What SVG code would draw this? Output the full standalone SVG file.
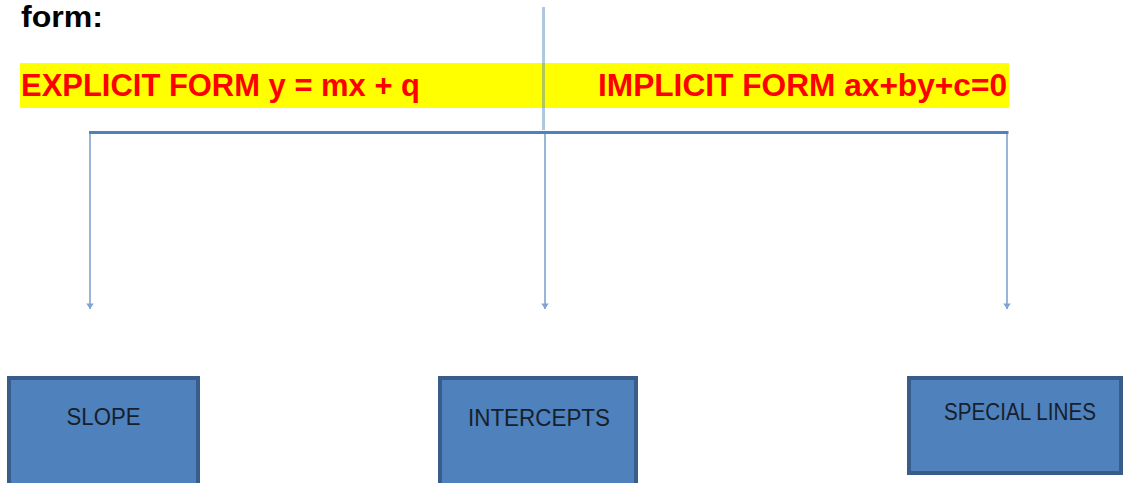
<svg xmlns="http://www.w3.org/2000/svg" width="1125" height="483" viewBox="0 0 1125 483">
  <style>
    .title { font-family: "Liberation Sans", Arial, sans-serif; font-weight: bold; fill: #000000; }
    .form { font-family: "Liberation Sans", Arial, sans-serif; font-weight: bold; font-size: 31px; fill: #ff0000; }
    .band { fill: #ffff00; }
    .box { fill: #4f81bd; stroke: #385d8a; stroke-width: 4; }
    .label { font-family: "Liberation Sans", Arial, sans-serif; font-size: 23px; fill: #16202c; text-anchor: middle; }
    .trunk { stroke: #4f81bd; stroke-width: 3; stroke-opacity: 0.45; fill: none; }
    .bar { stroke: #4f81bd; stroke-width: 3; fill: none; }
    .drop { stroke: #7fa3d2; stroke-width: 1.6; fill: none; marker-end: url(#tip); }
  </style>
  <defs>
    <marker id="tip" viewBox="0 0 6 10" refX="6" refY="5" markerWidth="3.5" markerHeight="6" markerUnits="strokeWidth" orient="auto">
      <path d="M0,1 L6,5 L0,9 Z" fill="#7fa3d2"/>
    </marker>
  </defs>

  <rect width="1125" height="483" fill="#ffffff"/>

  <!-- heading fragment -->
  <text class="title" x="21" y="27" font-size="29" textLength="82" lengthAdjust="spacingAndGlyphs">form:</text>

  <!-- highlighted equation band -->
  <rect class="band" x="20" y="63" width="989" height="45"/>
  <text class="form" x="21" y="96" textLength="399" lengthAdjust="spacingAndGlyphs">EXPLICIT FORM y = mx + q</text>
  <text class="form" x="598" y="96" textLength="409" lengthAdjust="spacingAndGlyphs">IMPLICIT FORM ax+by+c=0</text>

  <!-- connectors -->
  <g id="connectors">
    <line class="trunk" x1="543.5" y1="7" x2="543.5" y2="130"/>
    <line class="bar" x1="89" y1="132.5" x2="1008.5" y2="132.5"/>
    <line class="drop" x1="90" y1="134" x2="90" y2="309"/>
    <line class="drop" x1="545" y1="134" x2="545" y2="309"/>
    <line class="drop" x1="1007" y1="134" x2="1007" y2="309"/>
  </g>

  <!-- nodes -->
  <g id="node-slope">
    <rect class="box" x="9" y="378" width="189" height="108"/>
    <text class="label" x="103.5" y="425" textLength="74" lengthAdjust="spacingAndGlyphs">SLOPE</text>
  </g>
  <g id="node-intercepts">
    <rect class="box" x="440" y="378" width="196" height="108"/>
    <text class="label" x="539" y="426" textLength="142" lengthAdjust="spacingAndGlyphs">INTERCEPTS</text>
  </g>
  <g id="node-special-lines">
    <rect class="box" x="909" y="378" width="212" height="95"/>
    <text class="label" x="1020" y="420" textLength="152" lengthAdjust="spacingAndGlyphs">SPECIAL LINES</text>
  </g>
</svg>
